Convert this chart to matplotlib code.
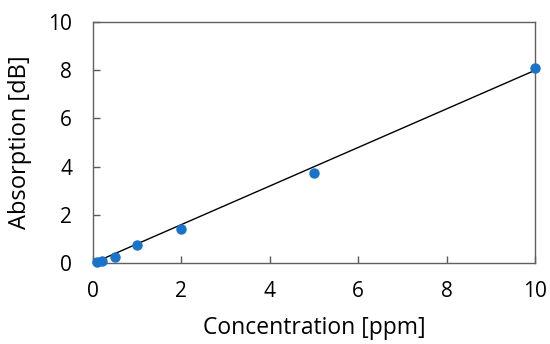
import matplotlib.pyplot as plt

# Datos
concentracion = [0.1, 0.2, 0.5, 1, 2, 5, 10]
absorcion = [0.05, 0.1, 0.25, 0.75, 1.43, 3.75, 8.08]
ajuste_x = [0, 10]
ajuste_y = [0, 8.0]

plt.rcParams['font.family'] = ['Open Sans', 'DejaVu Sans']

fig = plt.figure(figsize=(5.5, 3.44), dpi=100)
ax = fig.add_axes([0.169, 0.235, 0.804, 0.701])

# Recta de ajuste y puntos medidos
ax.plot(ajuste_x, ajuste_y, color='black', linewidth=1)
ax.plot(concentracion, absorcion, 'o', color='#1a72c9', markersize=6.5, zorder=3, clip_on=False)

ax.set_xlim(0, 10)
ax.set_ylim(0, 10)
ax.set_xticks([0, 2, 4, 6, 8, 10])
ax.set_yticks([0, 2, 4, 6, 8, 10])
ax.tick_params(direction='in', length=5, width=1, color='#595959', labelsize=15)
ax.tick_params(axis='x', pad=13)
ax.tick_params(axis='y', pad=15)
for s in ax.spines.values():
    s.set_color('#606060')
    s.set_linewidth(1)

ax.set_xlabel('Concentration [ppm]', fontsize=16.5, labelpad=10)
ax.set_ylabel('Absorption [dB]', fontsize=17, labelpad=11.5)

fig.savefig('out.png', dpi=100)
